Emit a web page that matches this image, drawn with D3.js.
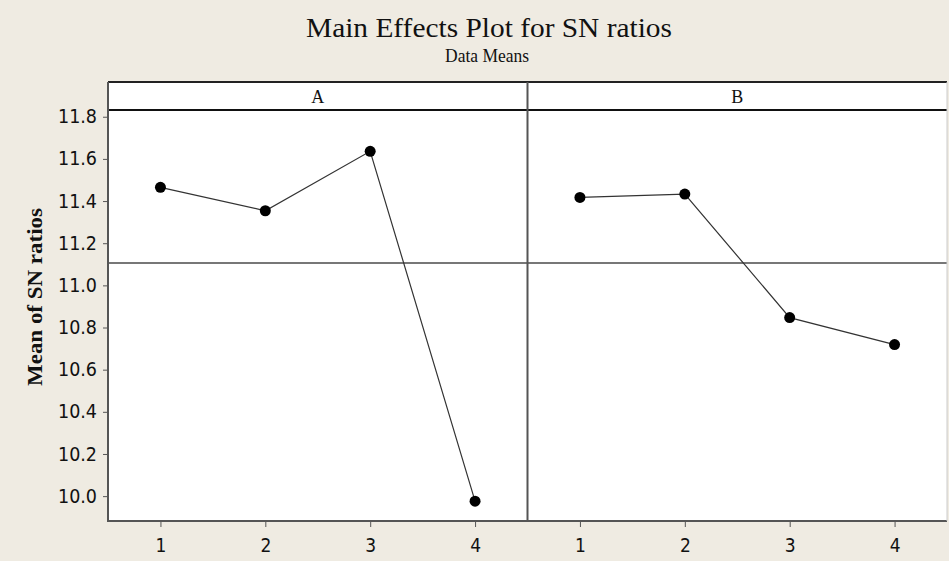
<!DOCTYPE html>
<html>
<head>
<meta charset="utf-8"/>
<title>Main Effects Plot for SN ratios</title>
<script src="https://cdn.jsdelivr.net/npm/d3@7"></script>
<style>
  body { margin: 0; background: #efebe2; }
  svg { display: block; }
  text { font-family: "Liberation Serif", "DejaVu Serif", serif; fill: #111; }
</style>
</head>
<body>
<div id="chart"></div>
<script>
// values
var levels = [1, 2, 3, 4];
var factors = ['A', 'B'];
var meansA = [11.465, 11.354, 11.636, 9.976];
var meansB = [11.417, 11.433, 10.847, 10.719];
var yTicks = [10.0, 10.2, 10.4, 10.6, 10.8, 11.0, 11.2, 11.4, 11.6, 11.8];
var grandMean = 11.106;

var W = 949, H = 561;
// plot box (note: "top" is a reserved window prop, so use plotTop)
var plotL = 108, plotR = 947, plotTop = 82, headH = 28, plotB = 521;
var panelW = (plotR - plotL) / factors.length;

var svg = d3.select('#chart').append('svg')
    .attr('width', W).attr('height', H);

svg.append('rect').attr('width', W).attr('height', H).attr('fill', '#efebe2');

// titles - the original font is a tall condensed serif, so squeeze a bigger size
svg.append('text').attr('x', 489).attr('y', 37)
    .attr('text-anchor', 'middle').style('font-size', '28px')
    .attr('textLength', 366).attr('lengthAdjust', 'spacingAndGlyphs')
    .text('Main Effects Plot for SN ratios');
svg.append('text').attr('x', 487).attr('y', 62)
    .attr('text-anchor', 'middle').style('font-size', '18px')
    .attr('textLength', 84).attr('lengthAdjust', 'spacingAndGlyphs')
    .text('Data Means');

var y = d3.scaleLinear().domain([9.882, 11.832]).range([plotB, plotTop + headH]);

// white panels first
svg.append('rect').attr('x', plotL).attr('y', plotTop).attr('width', plotR - plotL)
    .attr('height', plotB - plotTop).attr('fill', '#fff');

// y axis
var yAxis = d3.axisLeft(y).tickValues(yTicks).tickFormat(d3.format('.1f'))
    .tickSize(5).tickPadding(6);
var gy = svg.append('g').attr('transform', 'translate(' + plotL + ',0)').call(yAxis);
gy.select('.domain').remove();
gy.selectAll('line').attr('stroke', '#555');
gy.selectAll('text').style('font-size', '19px').attr('fill', '#222')
    .style('font-family', '"DejaVu Sans Condensed", sans-serif')
    .attr('textLength', 39).attr('lengthAdjust', 'spacingAndGlyphs');

svg.append('text')
    .attr('transform', 'translate(42,297) rotate(-90)')
    .attr('text-anchor', 'middle').style('font-size', '20px')
    .style('font-weight', 'bold')
    .attr('textLength', 178).attr('lengthAdjust', 'spacingAndGlyphs')
    .text('Mean of SN ratios');

var series = [meansA, meansB];

factors.forEach(function(f, i) {
  var x0 = plotL + i * panelW;
  var x = d3.scaleLinear().domain([0.5, 4.5]).range([x0, x0 + panelW]);
  var g = svg.append('g');

  // header strip label
  g.append('text').attr('x', x0 + panelW / 2).attr('y', plotTop + 21)
      .attr('text-anchor', 'middle').style('font-size', '18px').text(f);

  // grand mean reference line
  g.append('line').attr('x1', x0).attr('x2', x0 + panelW)
      .attr('y1', y(grandMean)).attr('y2', y(grandMean))
      .attr('stroke', '#777').attr('stroke-width', 2);

  var data = levels.map(function(l, k) { return { l: l, v: series[i][k] }; });

  g.append('path').datum(data)
      .attr('fill', 'none').attr('stroke', '#333').attr('stroke-width', 1.2)
      .attr('d', d3.line().x(function(d) { return x(d.l); }).y(function(d) { return y(d.v); }));

  g.selectAll('circle').data(data).enter().append('circle')
      .attr('cx', function(d) { return x(d.l); })
      .attr('cy', function(d) { return y(d.v); })
      .attr('r', 5.5).attr('fill', '#000');

  // x axis
  var xAxis = d3.axisBottom(x).tickValues(levels).tickFormat(d3.format('d'))
      .tickSize(6).tickPadding(12);
  var gx = g.append('g').attr('transform', 'translate(0,' + plotB + ')').call(xAxis);
  gx.select('.domain').remove();
  gx.selectAll('line').attr('stroke', '#555');
  gx.selectAll('text').style('font-size', '19px').attr('fill', '#222')
      .style('font-family', '"DejaVu Sans Condensed", sans-serif');
});

// frame lines
svg.append('line').attr('x1', plotL).attr('x2', plotR).attr('y1', plotTop).attr('y2', plotTop)
    .attr('stroke', '#222').attr('stroke-width', 2);
svg.append('line').attr('x1', plotL).attr('x2', plotR)
    .attr('y1', plotTop + headH).attr('y2', plotTop + headH)
    .attr('stroke', '#111').attr('stroke-width', 2);
svg.append('line').attr('x1', plotL + panelW).attr('x2', plotL + panelW)
    .attr('y1', plotTop).attr('y2', plotB).attr('stroke', '#555').attr('stroke-width', 2);
svg.append('line').attr('x1', plotL).attr('x2', plotL).attr('y1', plotTop).attr('y2', plotB + 1)
    .attr('stroke', '#555').attr('stroke-width', 2);
svg.append('line').attr('x1', plotL).attr('x2', plotR).attr('y1', plotB).attr('y2', plotB)
    .attr('stroke', '#555').attr('stroke-width', 2);
svg.append('line').attr('x1', plotR).attr('x2', plotR).attr('y1', plotTop).attr('y2', plotB)
    .attr('stroke', '#ccc').attr('stroke-width', 1);
</script>
</body>
</html>
